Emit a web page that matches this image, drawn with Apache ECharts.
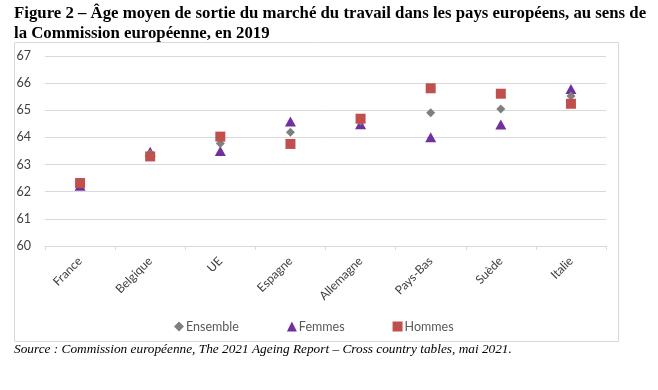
<!DOCTYPE html>
<html><head><meta charset="utf-8">
<script src="https://cdn.jsdelivr.net/npm/echarts@6/dist/echarts.min.js"></script>
<style>html,body{margin:0;padding:0;background:#fff}#c{width:658px;height:390px}</style>
</head><body><div id="c"></div>
<script>
const categories = ['France','Belgique','UE','Espagne','Allemagne','Pays-Bas','Suède','Italie'];
const ensemble = [62.3, 63.4, 63.78, 64.19, 64.6, 64.91, 65.05, 65.53];
const femmes   = [62.22, 63.47, 63.5, 64.59, 64.49, 64.01, 64.48, 65.78];
const hommes   = [62.32, 63.3, 64.03, 63.76, 64.69, 65.81, 65.61, 65.24];
const yTicks = [60, 61, 62, 63, 64, 65, 66, 67];

const chart = echarts.init(document.getElementById('c'));
const font = 'Lato, "Open Sans", sans-serif';
chart.setOption({
  animation: false,
  graphic: [
    {type:'rect', shape:{x:14.5,y:42.5,width:604,height:299}, style:{fill:'none',stroke:'#d9d9d9',lineWidth:1}, z:-1},
    {type:'text', left:14, top:4, style:{text:'Figure 2 – Âge moyen de sortie du marché du travail dans les pays européens, au sens de\nla Commission européenne, en 2019', font:'bold 16.8px "Liberation Serif", "Times New Roman", serif', fill:'#000', lineHeight:20}},
    {type:'text', left:14, top:343, style:{text:'Source : Commission européenne, The 2021 Ageing Report – Cross country tables, mai 2021.', font:'italic 13.3px "Liberation Serif", "Times New Roman", serif', fill:'#000'}}
  ],
  grid: {left:45, right:52, top:56, bottom:144, containLabel:false},
  legend: {
    top: 315, left: 169,
    itemGap: 48, itemWidth: 10, itemHeight: 10,
    textStyle: {fontFamily: font, fontSize: 12.5, color:'#595959', padding:[0,0,0,-3]},
    data: [
      {name:'Ensemble', icon:'diamond', itemStyle:{color:'#7f7f7f'}},
      {name:'Femmes', icon:'triangle', itemStyle:{color:'#7030a0'}},
      {name:'Hommes', icon:'rect', itemStyle:{color:'#c0504d'}}
    ]
  },
  xAxis: {
    type:'category', data: categories, boundaryGap:true,
    axisLine:{show:true, lineStyle:{color:'#d9d9d9', width:1}},
    axisTick:{show:true, length:4, alignWithLabel:false, lineStyle:{color:'#d9d9d9'}},
    axisLabel:{rotate:45, fontFamily:font, fontSize:12, color:'#404040', margin:13, interval:0}
  },
  yAxis: {
    type:'value', min: yTicks[0], max: yTicks[yTicks.length-1], interval:1,
    axisLine:{show:false}, axisTick:{show:false},
    splitLine:{lineStyle:{color:'#d9d9d9', width:1}},
    axisLabel:{fontFamily:font, fontSize:12.5, color:'#404040', margin:14}
  },
  series: [
    {name:'Ensemble', type:'scatter', symbol:'diamond', symbolSize:[9,9], data:ensemble, itemStyle:{color:'#7f7f7f', opacity:1}, z:3},
    {name:'Femmes', type:'scatter', symbol:'triangle', symbolSize:[11,10], data:femmes, itemStyle:{color:'#7030a0', opacity:1}, z:2},
    {name:'Hommes', type:'scatter', symbol:'rect', symbolSize:[10,10], data:hommes, itemStyle:{color:'#c0504d', opacity:1}, z:4}
  ]
});
</script></body></html>
